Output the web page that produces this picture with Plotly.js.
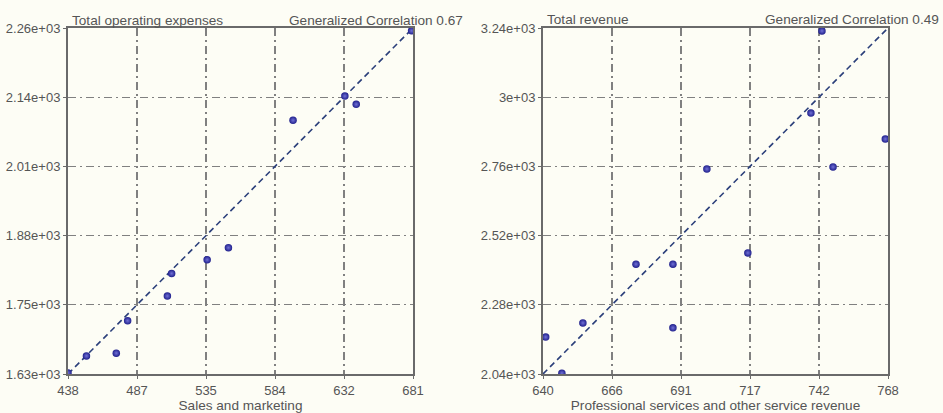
<!DOCTYPE html>
<html>
<head>
<meta charset="utf-8">
<script src="https://cdn.plot.ly/plotly-3.0.1.min.js"></script>
<style>html,body{margin:0;padding:0;background:#fdfdf5;}#chart{width:943px;height:413px;}</style>
</head>
<body>
<div id="chart"></div>
<script>
// Left panel: Sales and marketing vs Total operating expenses
const salesMarketing = [438, 451, 472, 480, 508, 511, 536, 551, 596.5, 633, 641, 680];
const totalOpex      = [1632, 1663, 1668, 1727, 1772, 1813, 1838, 1860, 2092, 2136, 2121, 2255];
const leftXRange = [438, 681];
const leftYRange = [1630, 2260];
const leftXTicks = ["438", "487", "535", "584", "632", "681"];
const leftYTicks = ["1.63e+03", "1.75e+03", "1.88e+03", "2.01e+03", "2.14e+03", "2.26e+03"];

// Right panel: Professional services revenue vs Total revenue
const proServices  = [641, 647, 654.8, 674.5, 688.2, 688.2, 700.8, 716, 739.4, 743.5, 747.6, 767];
const totalRevenue = [2168, 2043, 2217, 2421, 2421, 2200, 2751, 2460, 2945, 3230, 2758, 2855];
const rightXRange = [640, 768];
const rightYRange = [2040, 3240];
const rightXTicks = ["640", "666", "691", "717", "742", "768"];
const rightYTicks = ["2.04e+03", "2.28e+03", "2.52e+03", "2.76e+03", "3e+03", "3.24e+03"];

const titles = {
  leftX: "Sales and marketing", leftY: "Total operating expenses", leftCorr: "Generalized Correlation 0.67",
  rightX: "Professional services and other service revenue", rightY: "Total revenue", rightCorr: "Generalized Correlation 0.49"
};

function evenTicks(r, n) { const v = []; for (let i = 0; i < n; i++) v.push(r[0] + (r[1] - r[0]) * i / (n - 1)); return v; }

const W = 943, H = 413;
const fam = "Liberation Sans, Arial, sans-serif";
const tickFont = {family: fam, size: 13, color: "#555"};
const textFont = {family: fam, size: 13.6, color: "#555"};
const marker = {symbol: "circle", size: 7.5, color: "#20208c", gradient: {type: "radial", color: "#7070d6"}, line: {width: 0}};
const diagLine = {color: "#2b3f7a", width: 1.6, dash: "6px,4px"};

const traces = [
  {x: leftXRange, y: leftYRange, xaxis: "x", yaxis: "y", mode: "lines", line: diagLine, hoverinfo: "skip"},
  {x: salesMarketing, y: totalOpex, xaxis: "x", yaxis: "y", mode: "markers", marker: marker},
  {x: rightXRange, y: rightYRange, xaxis: "x2", yaxis: "y2", mode: "lines", line: diagLine, hoverinfo: "skip"},
  {x: proServices, y: totalRevenue, xaxis: "x2", yaxis: "y2", mode: "markers", marker: marker}
];

function axis(extra) {
  return Object.assign({
    showline: true, mirror: true, linecolor: "#6a6a6a", linewidth: 2,
    showgrid: true, gridcolor: "#808080", gridwidth: 1.2, griddash: "8px,4px,2px,4px",
    zeroline: false, ticks: "outside", ticklen: 3, tickcolor: "#6a6a6a",
    tickmode: "array", tickfont: tickFont
  }, extra);
}

const layout = {
  width: W, height: H, margin: {l: 0, r: 0, t: 0, b: 0},
  paper_bgcolor: "#fdfdf5", plot_bgcolor: "#fdfdf5",
  showlegend: false, font: tickFont,
  xaxis: axis({domain: [68 / W, 413 / W], range: leftXRange, tickvals: evenTicks(leftXRange, 6), ticktext: leftXTicks, anchor: "y",
    title: {text: titles.leftX, font: textFont, standoff: 5}}),
  yaxis: axis({domain: [39 / H, 385 / H], range: leftYRange, tickvals: evenTicks(leftYRange, 6), ticktext: leftYTicks, anchor: "x"}),
  xaxis2: axis({domain: [543 / W, 888 / W], range: rightXRange, tickvals: evenTicks(rightXRange, 6), ticktext: rightXTicks, anchor: "y2",
    title: {text: titles.rightX, font: textFont, standoff: 5}}),
  yaxis2: axis({domain: [39 / H, 385 / H], range: rightYRange, tickvals: evenTicks(rightYRange, 6), ticktext: rightYTicks, anchor: "x2"}),
  annotations: [
    {text: titles.leftY, xref: "paper", yref: "paper", x: 70 / W, y: 1 - 21 / H, xanchor: "left", yanchor: "middle", showarrow: false, font: textFont},
    {text: titles.leftCorr, xref: "paper", yref: "paper", x: 465 / W, y: 1 - 21 / H, xanchor: "right", yanchor: "middle", showarrow: false, font: textFont},
    {text: titles.rightY, xref: "paper", yref: "paper", x: 545 / W, y: 1 - 19 / H, xanchor: "left", yanchor: "middle", showarrow: false, font: textFont},
    {text: titles.rightCorr, xref: "paper", yref: "paper", x: 941 / W, y: 1 - 19 / H, xanchor: "right", yanchor: "middle", showarrow: false, font: textFont}
  ]
};

Plotly.newPlot("chart", traces, layout, {displayModeBar: false, staticPlot: true});
</script>
</body>
</html>
